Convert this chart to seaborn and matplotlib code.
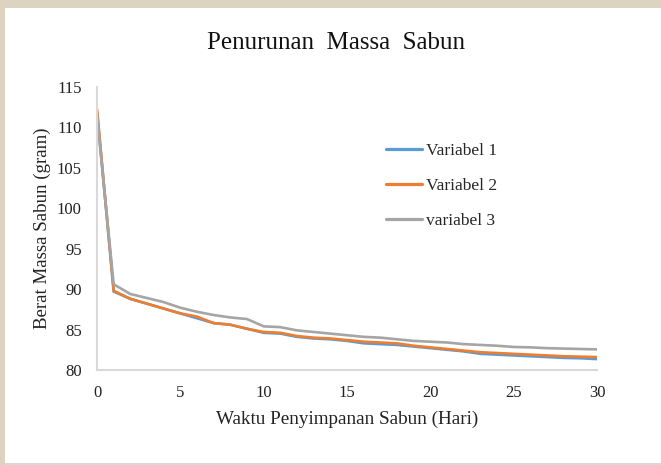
import matplotlib
matplotlib.use("Agg")
import matplotlib.pyplot as plt
import seaborn as sns
import pandas as pd
from matplotlib.patches import Rectangle

days = list(range(0, 31))
variabel_1 = [112.0, 89.7, 88.8, 88.2, 87.6, 87.0, 86.4, 85.8, 85.6, 85.1, 84.6,
              84.5, 84.1, 83.9, 83.8, 83.6, 83.3, 83.2, 83.1, 82.9, 82.7,
              82.5, 82.3, 82.0, 81.9, 81.8, 81.7, 81.6, 81.5, 81.45, 81.35]
variabel_2 = [112.3, 89.8, 88.8, 88.2, 87.6, 87.0, 86.6, 85.8, 85.6, 85.1, 84.7,
              84.6, 84.2, 84.0, 83.9, 83.7, 83.5, 83.4, 83.3, 83.0, 82.8,
              82.6, 82.4, 82.2, 82.1, 82.0, 81.9, 81.8, 81.7, 81.65, 81.6]
variabel_3 = [111.5, 90.6, 89.4, 88.9, 88.4, 87.7, 87.2, 86.8, 86.5, 86.3, 85.4,
              85.3, 84.9, 84.7, 84.5, 84.3, 84.1, 84.0, 83.8, 83.6, 83.5,
              83.4, 83.2, 83.1, 83.0, 82.85, 82.8, 82.7, 82.65, 82.6, 82.55]
series_names = ["Variabel 1", "Variabel 2", "variabel 3"]
x_ticks = [0, 5, 10, 15, 20, 25, 30]
y_ticks = [80, 85, 90, 95, 100, 105, 110, 115]

rows = []
for name, vals in zip(series_names, [variabel_1, variabel_2, variabel_3]):
    for d, v in zip(days, vals):
        rows.append({"Hari": d, "Massa": v, "Seri": name})
df = pd.DataFrame(rows)

sns.set_style("white")
plt.rcParams["font.family"] = ["Liberation Serif", "DejaVu Serif"]

fig = plt.figure(figsize=(6.61, 4.65), dpi=100)
fig.patch.set_facecolor("#DCD3C1")
fig.patches.append(Rectangle((5 / 661, 2 / 465), 1, 1 - 10 / 465, transform=fig.transFigure,
                             facecolor="white", edgecolor="none", zorder=-5))
fig.patches.append(Rectangle((5 / 661, 0), 1, 2 / 465, transform=fig.transFigure,
                             facecolor="#D8D8D8", edgecolor="none", zorder=-5))

ax = fig.add_axes([97 / 661, 1 - 370 / 465, 500 / 661, 283 / 465])
ax.set_facecolor("white")
palette = {"Variabel 1": "#5B9BD5", "Variabel 2": "#ED7D31", "variabel 3": "#A5A5A5"}
sns.lineplot(data=df, x="Hari", y="Massa", hue="Seri", palette=palette,
             linewidth=1.9, ax=ax, legend=True)
ax.set_xlim(0, 30)
ax.set_ylim(80, 115)
ax.set_xticks(x_ticks)
ax.set_yticks(y_ticks)
ax.tick_params(axis="y", length=0, labelsize=12, colors="#222222", pad=11)
ax.tick_params(axis="x", length=0, labelsize=12, colors="#222222", pad=11)
for s in ["top", "right"]:
    ax.spines[s].set_visible(False)
for s in ["left", "bottom"]:
    ax.spines[s].set_color("#D9D9D9")
    ax.spines[s].set_linewidth(1.5)

ax.set_xlabel("Waktu Penyimpanan Sabun (Hari)", fontsize=13.8, color="#222222", labelpad=7)
ax.set_ylabel("Berat Massa Sabun (gram)", fontsize=13.6, color="#222222", labelpad=4)
fig.text(336 / 661, 1 - 43 / 465, "Penurunan  Massa  Sabun", ha="center", va="center",
         fontsize=18, color="#111111")

leg = ax.legend(loc="upper left", bbox_to_anchor=(0.578, 0.803), frameon=False,
                borderpad=0, borderaxespad=0,
                fontsize=12.5, handlelength=2.1, handletextpad=0.2, labelspacing=1.1)
for line in leg.get_lines():
    line.set_linewidth(2.3)

fig.savefig("out.png", dpi=100, facecolor=fig.get_facecolor())
